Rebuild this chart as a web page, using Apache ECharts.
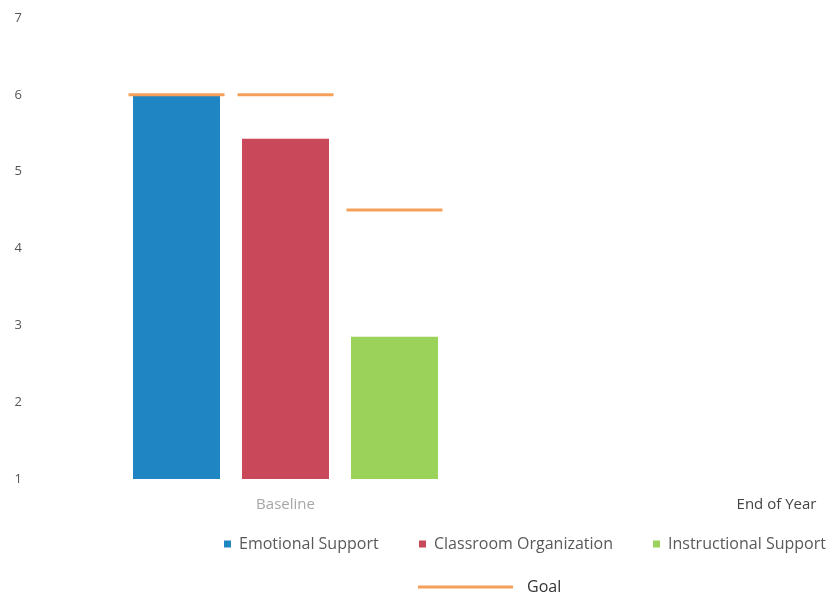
<!DOCTYPE html>
<html>
<head>
<meta charset="utf-8">
<script src="https://cdn.jsdelivr.net/npm/echarts@6/dist/echarts.min.js"></script>
<style>html,body{margin:0;padding:0;background:#fff}#c{width:832px;height:599px}</style>
</head>
<body>
<div id="c"></div>
<script>
const categories = ['Baseline', 'End of Year'];
const seriesNames = ['Emotional Support', 'Classroom Organization', 'Instructional Support'];
const emotionalSupport = [6.0, null];
const classroomOrganization = [5.43, null];
const instructionalSupport = [2.85, null];
const goalValues = [6.0, 6.0, 4.5];
const yTicks = [1, 2, 3, 4, 5, 6, 7];

const colors = ['#1f86c3', '#c9495a', '#9bd35a'];
const goalColor = '#f5a05a';
const BAR_W = 87, GAP = 22, GOAL_HALF = 48;
const font = '"Open Sans", Lato, sans-serif';

const chart = echarts.init(document.getElementById('c'));
const barData = [emotionalSupport, classroomOrganization, instructionalSupport];

const legendPos = [219, 414, 648];
const legends = seriesNames.map((n, i) => ({
  data: [n], left: legendPos[i], top: 531, icon: 'rect', itemWidth: 7, itemHeight: 7, itemGap: 5,
  textStyle: {color: '#595959', fontSize: 16, fontFamily: font, padding: [0, 0, 0, 3]}
}));
legends.push({
  data: [{name: 'Goal', icon: 'rect'}], left: 413, top: 574, itemWidth: 95, itemHeight: 3, itemGap: 10,
  textStyle: {color: '#333', fontSize: 16, fontFamily: font, padding: [0, 0, 0, 9]}
});

chart.setOption({
  animation: false,
  grid: {left: 40, width: 982, top: 18, bottom: 120, containLabel: false, outerBoundsMode: 'none'},
  legend: legends,
  xAxis: {
    type: 'category',
    data: [{value: categories[0], textStyle: {color: '#a6a6a6'}}, {value: categories[1], textStyle: {color: '#444'}}],
    axisLine: {show: false}, axisTick: {show: false},
    axisLabel: {fontSize: 15, fontFamily: font, margin: 18}
  },
  yAxis: {
    type: 'value', min: yTicks[0], max: yTicks[yTicks.length - 1], interval: 1,
    splitLine: {show: false}, axisLine: {show: false}, axisTick: {show: false},
    axisLabel: {color: '#555', fontSize: 13, fontFamily: font, margin: 18}
  },
  series: seriesNames.map((n, i) => ({
    name: n, type: 'bar', data: barData[i], barWidth: BAR_W, barGap: (GAP / BAR_W * 100) + '%',
    itemStyle: {color: colors[i]}
  })).concat([{
    name: 'Goal', type: 'custom',
    itemStyle: {color: goalColor},
    encode: {x: 0, y: 1},
    data: goalValues.map((v, i) => [0, v, i]),
    renderItem: function (params, api) {
      const idx = api.value(2);
      const c = api.coord([api.value(0), api.value(1)]);
      const x = c[0] + (idx - 1) * (BAR_W + GAP);
      return {type: 'line', shape: {x1: x - GOAL_HALF, y1: c[1], x2: x + GOAL_HALF, y2: c[1]},
        style: {stroke: goalColor, lineWidth: 3}};
    },
    z: 5
  }])
});
</script>
</body>
</html>
